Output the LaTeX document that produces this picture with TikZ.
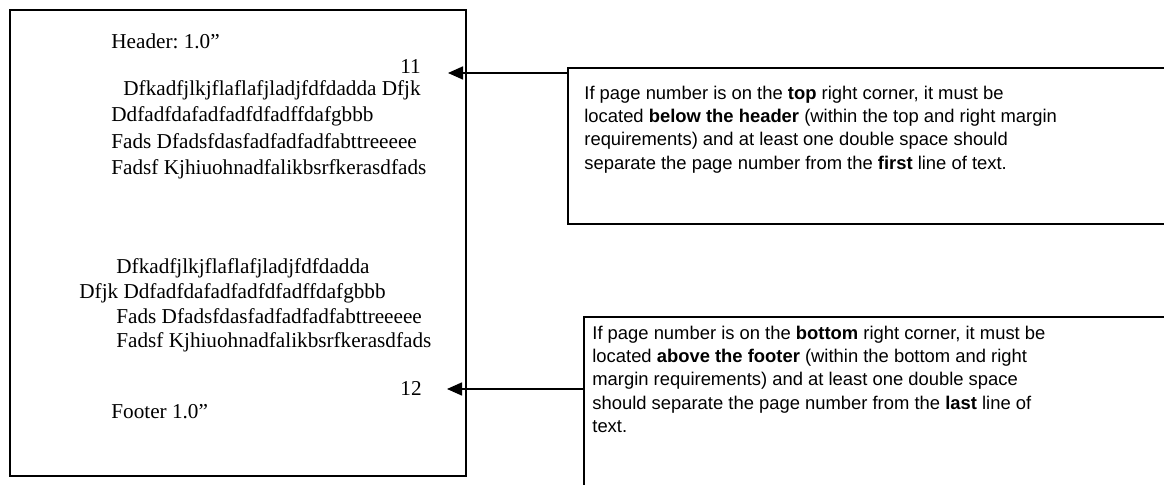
\documentclass[tikz,border=0pt]{standalone}
\usepackage{fontspec}
\setmainfont{Liberation Serif}
\newfontfamily\arialf{Liberation Sans}
\usetikzlibrary{arrows.meta}
\frenchspacing
\begin{document}
\begin{tikzpicture}[x=0.5pt,y=-0.5pt,
  pg/.style={font=\fontsize{10.6}{12}\selectfont, anchor=base west, inner sep=0},
  nt/.style={font=\arialf\fontsize{9.2}{11}\selectfont, anchor=base west, inner sep=0},
  frame/.style={draw, line width=1pt, inner sep=0, anchor=north west},
  arr/.style={line width=0.8pt, -{Triangle[length=7.5pt,width=6.5pt]}}]
\useasboundingbox (0,0) rectangle (1164,485);
\clip (0,0) rectangle (1164,485);
\fill[white] (0,0) rectangle (1164,485);
% page
\node[frame, minimum width=228pt, minimum height=233pt] (page) at (9,9) {};
\node[pg] (hdr) at (111,49) {Header: 1.0”};
\node[pg] (n11) at (400,74) {11};
\node[pg] (p1a) at (123,96) {Dfkadfjlkjflaflafjladjfdfdadda Dfjk};
\node[pg] (p1b) at (111,122) {Ddfadfdafadfadfdfadffdafgbbb};
\node[pg] (p1c) at (111,149) {Fads Dfadsfdasfadfadfadfabttreeeee};
\node[pg] (p1d) at (111,175) {Fadsf Kjhiuohnadfalikbsrfkerasdfads};
\node[pg] (p2a) at (116,274) {Dfkadfjlkjflaflafjladjfdfdadda};
\node[pg] (p2b) at (79,299) {Dfjk Ddfadfdafadfadfdfadffdafgbbb};
\node[pg] (p2c) at (116,324) {Fads Dfadsfdasfadfadfadfabttreeeee};
\node[pg] (p2d) at (116,348) {Fadsf Kjhiuohnadfalikbsrfkerasdfads};
\node[pg] (n12) at (400,396) {12};
\node[pg] (ftr) at (111,419) {Footer 1.0”};
% top note box
\node[frame, minimum width=316.5pt, minimum height=78pt] (topbox) at (567,67) {};
\node[nt] (t1) at (584,100) {If page number is on the \textbf{top} right corner, it must be};
\node[nt] (t2) at (584,123) {located \textbf{below the header} (within the top and right margin};
\node[nt] (t3) at (584,146) {requirements) and at least one double space should};
\node[nt] (t4) at (584,170) {separate the page number from the \textbf{first} line of text.};
% bottom note box
\node[frame, minimum width=308.5pt, minimum height=100pt] (botbox) at (583,316) {};
\node[nt] (b1) at (592,340) {If page number is on the \textbf{bottom} right corner, it must be};
\node[nt] (b2) at (592,363) {located \textbf{above the footer} (within the bottom and right};
\node[nt] (b3) at (592,386) {margin requirements) and at least one double space};
\node[nt] (b4) at (592,410) {should separate the page number from the \textbf{last} line of};
\node[nt] (b5) at (592,433) {text.};
% arrows
\coordinate (a1) at ([yshift=-3pt]topbox.north west);
\coordinate (h1) at (448,73);
\draw[arr] (a1) -- (h1);
\coordinate (a2) at ([yshift=-36.5pt]botbox.north west);
\coordinate (h2) at (447,389);
\draw[arr] (a2) -- (h2);
\end{tikzpicture}
\end{document}
